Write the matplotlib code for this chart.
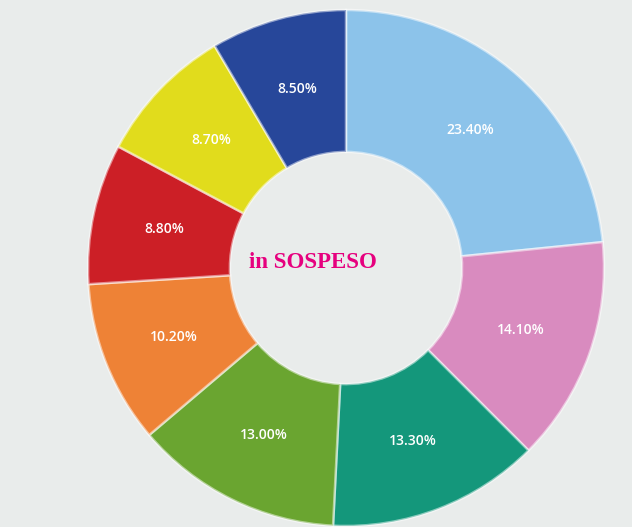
import matplotlib
matplotlib.use("Agg")
import matplotlib.pyplot as plt

values = [23.4, 14.1, 13.3, 13.0, 10.2, 8.8, 8.7, 8.5]
labels = ["23.40%", "14.10%", "13.30%", "13.00%", "10.20%", "8.80%", "8.70%", "8.50%"]
colors = ["#8CC3EA", "#D98BBF", "#14977B", "#6AA530", "#EE8236", "#CC1F26", "#E1DC1C", "#27479A"]
center_text = "in SOSPESO"

bg = "#E9ECEB"
W, H = 632, 527
fig = plt.figure(figsize=(W / 100, H / 100), dpi=100, facecolor=bg)
cx, cy, r = 346, 268, 258
ax = fig.add_axes([(cx - r) / W, (H - cy - r) / H, 2 * r / W, 2 * r / H])
ax.set_facecolor(bg)

wedges, texts = ax.pie(values, colors=colors, startangle=90, counterclock=False,
                       radius=1.0, labels=labels, labeldistance=0.72,
                       wedgeprops=dict(width=0.55, edgecolor=(1, 1, 1, 0.5), linewidth=1.8),
                       textprops=dict(color="white", fontsize=10, fontweight="semibold",
                                      family="Open Sans"))
for t in texts:
    t.set_ha("center")
    t.set_va("center")

ax.text(-0.128, 0.02, center_text, ha="center", va="center", color="#E6007E",
        fontsize=16.5, fontweight="bold", family="Liberation Serif")
ax.set_xlim(-1, 1)
ax.set_ylim(-1, 1)
ax.set_aspect("equal")
ax.axis("off")
fig.savefig("out.png", dpi=100, facecolor=bg)
